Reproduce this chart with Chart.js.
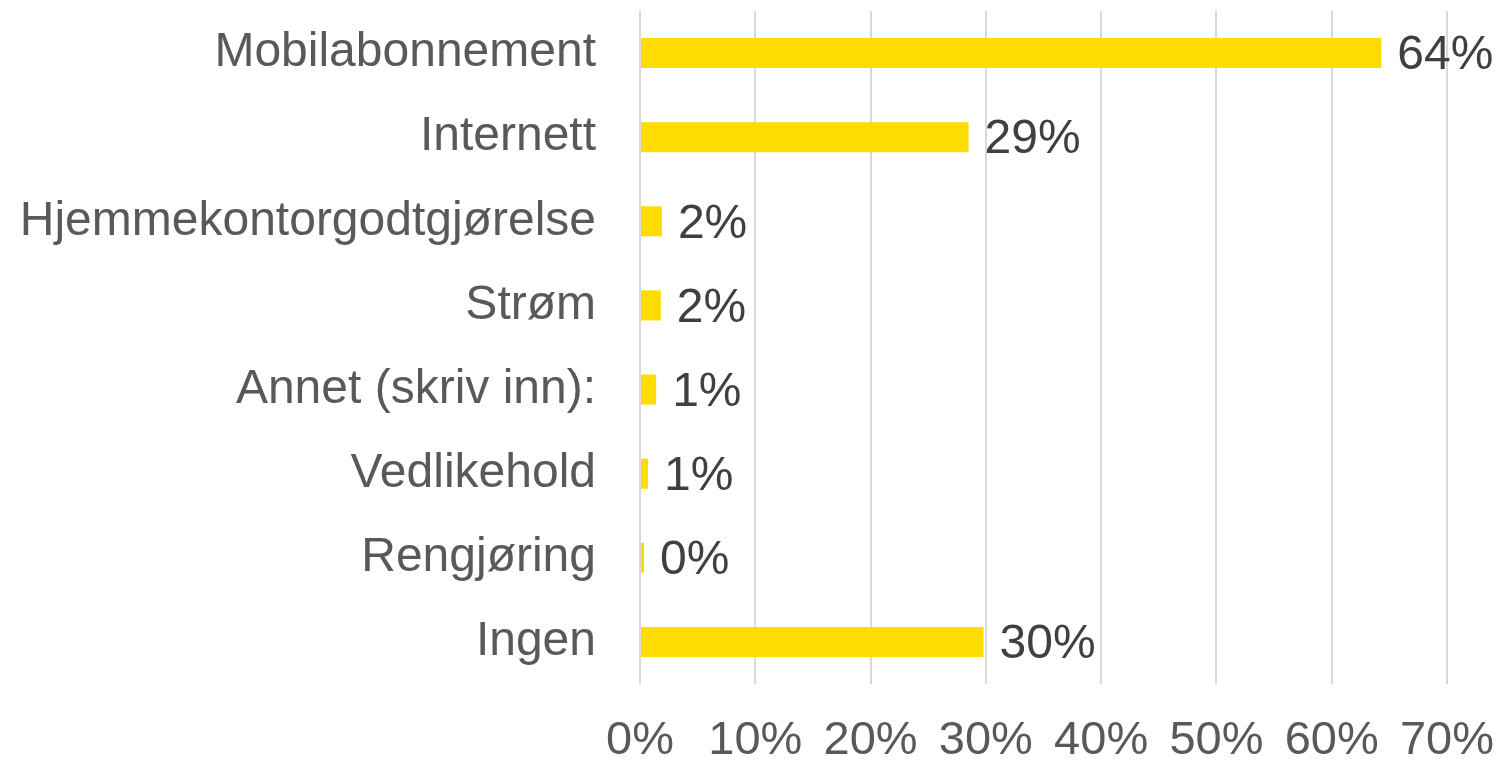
<!DOCTYPE html>
<html>
<head>
<meta charset="utf-8">
<script src="https://cdn.jsdelivr.net/npm/chart.js@4/dist/chart.umd.min.js"></script>
<style>
html,body{margin:0;padding:0;background:#fff;}
canvas{display:block;}
</style>
</head>
<body>
<canvas id="c" width="1501" height="763"></canvas>
<script>
const categories = ["Mobilabonnement","Internett","Hjemmekontorgodtgjørelse","Strøm","Annet (skriv inn):","Vedlikehold","Rengjøring","Ingen"];
const values = [64.3, 28.5, 1.9, 1.8, 1.4, 0.7, 0.35, 29.8];
const xTicks = [0,10,20,30,40,50,60,70];

const FONT = "'Liberation Sans', Arial, sans-serif";

const valueLabels = {
  id: 'valueLabels',
  afterDatasetsDraw(chart) {
    const ctx = chart.ctx;
    const meta = chart.getDatasetMeta(0);
    ctx.save();
    ctx.font = "48px " + FONT;
    ctx.fillStyle = "#404040";
    ctx.textAlign = "left";
    ctx.textBaseline = "middle";
    meta.data.forEach((bar, i) => {
      ctx.fillText(Math.round(values[i]) + "%", bar.x + 16, bar.y + 3);
    });
    ctx.restore();
  }
};

new Chart(document.getElementById('c'), {
  type: 'bar',
  data: {
    labels: categories,
    datasets: [{
      data: values,
      backgroundColor: '#FFDC00',
      borderWidth: 0,
      categoryPercentage: 1,
      barPercentage: 0.357
    }]
  },
  plugins: [valueLabels],
  options: {
    indexAxis: 'y',
    responsive: false,
    animation: false,
    layout: { padding: { top: 11, right: 54, left: 0, bottom: 0 } },
    plugins: { legend: { display: false }, tooltip: { enabled: false } },
    scales: {
      x: {
        min: 0, max: 70,
        afterBuildTicks(scale) { scale.ticks = xTicks.map(v => ({ value: v })); },
        afterFit(scale) { scale.height = 79; scale.paddingLeft = 0; scale.paddingRight = 0; },
        grid: { color: '#D9D9D9', lineWidth: 2, drawTicks: false },
        border: { display: false },
        ticks: {
          padding: 34,
          color: '#595959',
          font: { family: FONT, size: 47, lineHeight: 1.0 },
          maxRotation: 0,
          callback: v => v + '%'
        }
      },
      y: {
        afterFit(scale) { scale.width = 640; scale.paddingTop = 0; scale.paddingBottom = 0; },
        grid: { display: false, drawTicks: false },
        border: { display: false },
        ticks: {
          padding: 44,
          color: '#595959',
          font: { family: FONT, size: 48 }
        }
      }
    }
  }
});
</script>
</body>
</html>
